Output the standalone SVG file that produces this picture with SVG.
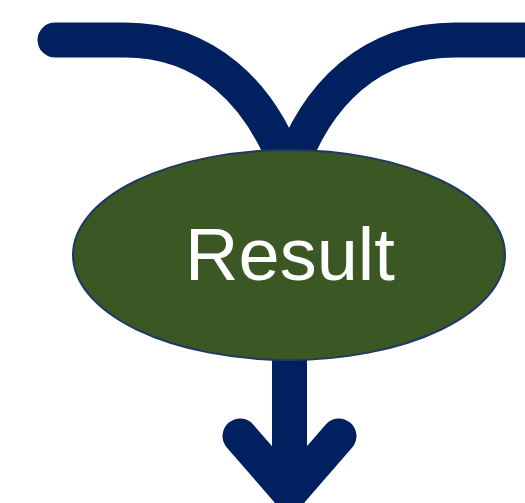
<svg xmlns="http://www.w3.org/2000/svg" width="525" height="503" viewBox="0 0 525 503">
<style>
.conn{fill:none;stroke:#002060;stroke-width:35;stroke-linecap:round;stroke-linejoin:miter;stroke-miterlimit:10}
.node{fill:#3A5724;stroke:#1F3864;stroke-width:2}
.label{font-family:"Liberation Sans",Arial,sans-serif;font-size:74px;fill:#FFFFFF;text-anchor:middle}
</style>
<rect width="525" height="503" fill="#FFFFFF"/>
<g id="connectors">
<path class="conn" d="M55,40 H125 C205,40 262,92 290,175"/>
<path class="conn" d="M560,40 H455 C372,40 316,92 288,175" style="stroke-linecap:butt"/>
<path class="conn" d="M289.5,340 V493"/>
<path class="conn" d="M240,436 L289.5,493 L339,436"/>
</g>
<g id="result">
<ellipse class="node" cx="289" cy="255" rx="216" ry="105"/>
<text class="label" x="290" y="280">Result</text>
</g>
</svg>
